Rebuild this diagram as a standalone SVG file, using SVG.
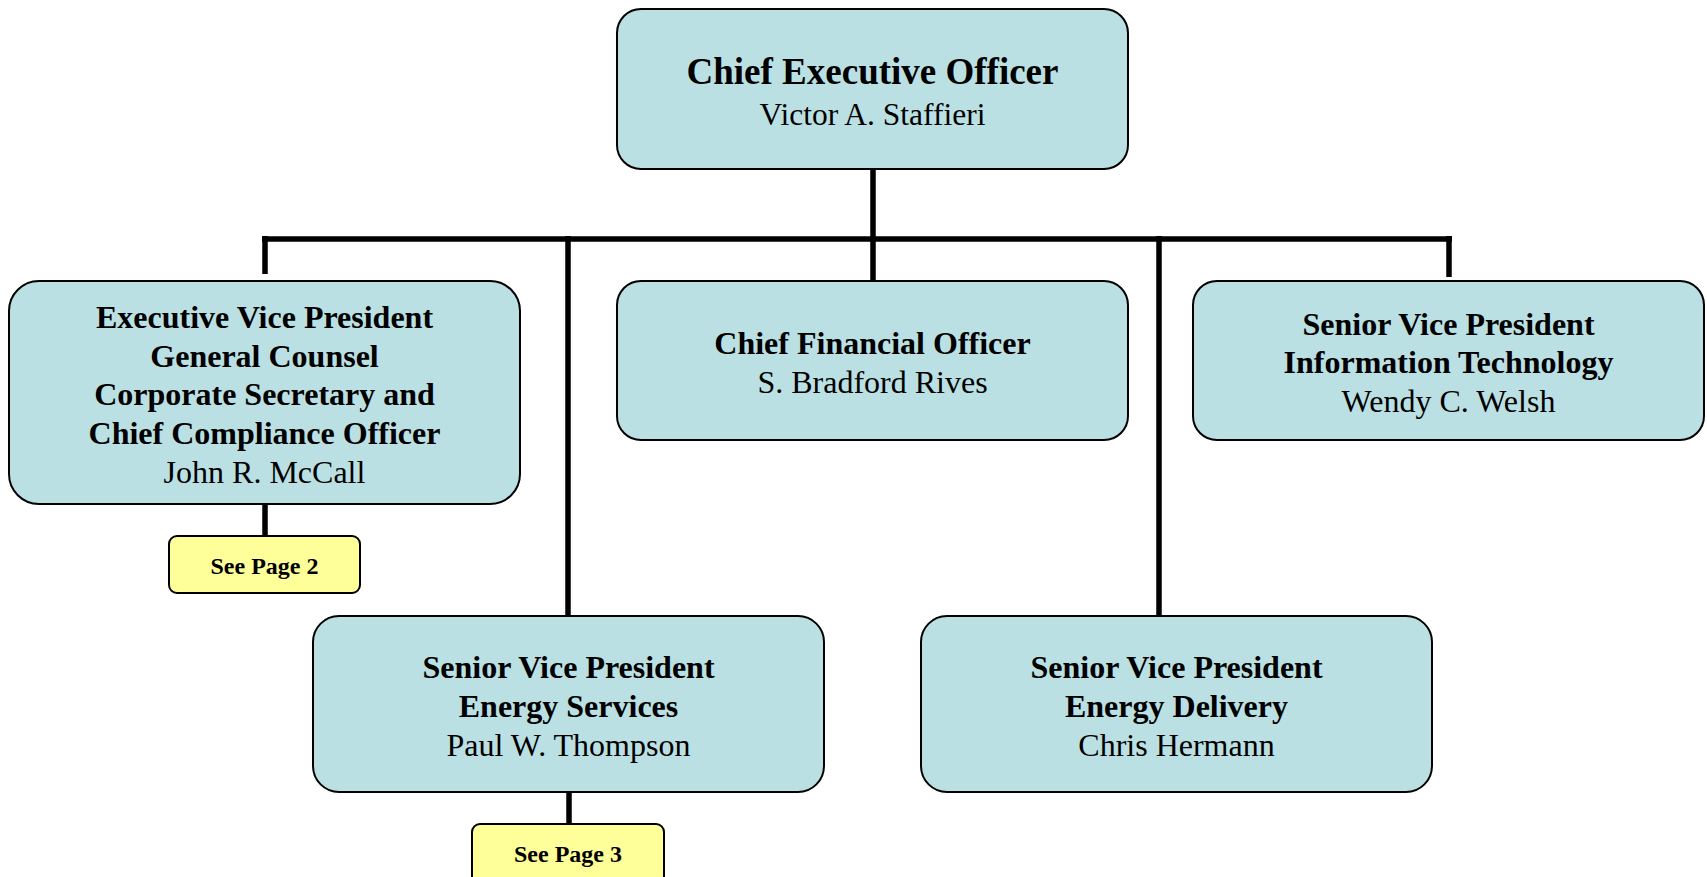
<svg xmlns="http://www.w3.org/2000/svg" width="1707" height="877" viewBox="0 0 1707 877">
<style>
.box{fill:#BBE0E3;stroke:#000;stroke-width:2}
.ref{fill:#FFFF99;stroke:#000;stroke-width:2}
.conn line{stroke:#000;stroke-width:5.5;stroke-linecap:butt}
text{font-family:"Liberation Serif","Times New Roman",serif;fill:#000;text-anchor:middle}
.t{font-weight:bold;font-size:32px}
.n{font-size:32px}
.big{font-weight:bold;font-size:37px}
.bigname{font-size:31.5px}
.sp{font-weight:bold;font-size:24px}
</style>
<rect width="1707" height="877" fill="#fff"/>
<g id="connectors" class="conn">
<line x1="873" y1="169" x2="873" y2="281"/>
<line x1="262" y1="239" x2="1452" y2="239"/>
<line x1="265" y1="236" x2="265" y2="274"/>
<line x1="1449" y1="236" x2="1449" y2="277"/>
<line x1="568" y1="236" x2="568" y2="616"/>
<line x1="1159" y1="236" x2="1159" y2="616"/>
<line x1="265" y1="504" x2="265" y2="536"/>
<line x1="569" y1="792" x2="569" y2="824"/>
</g>
<g id="ceo">
<rect class="box" x="617" y="9" width="511" height="160" rx="24"/>
<text class="big" x="872.5" y="84">Chief Executive Officer</text>
<text class="bigname" x="872.5" y="124.5">Victor A. Staffieri</text>
</g>
<g id="evp">
<rect class="box" x="9" y="281" width="511" height="223" rx="30"/>
<text class="t" x="264.5" y="328">Executive Vice President</text>
<text class="t" x="264.5" y="366.5">General Counsel</text>
<text class="t" x="264.5" y="405">Corporate Secretary and</text>
<text class="t" x="264.5" y="443.5">Chief Compliance Officer</text>
<text class="n" x="264.5" y="482.5">John R. McCall</text>
</g>
<g id="cfo">
<rect class="box" x="617" y="281" width="511" height="159" rx="24"/>
<text class="t" x="872.5" y="354">Chief Financial Officer</text>
<text class="n" x="872.5" y="392.5">S. Bradford Rives</text>
</g>
<g id="svp-it">
<rect class="box" x="1193" y="281" width="511" height="159" rx="24"/>
<text class="t" x="1448.5" y="334.5">Senior Vice President</text>
<text class="t" x="1448.5" y="373">Information Technology</text>
<text class="n" x="1448.5" y="411.5">Wendy C. Welsh</text>
</g>
<g id="svp-es">
<rect class="box" x="313" y="616" width="511" height="176" rx="26"/>
<text class="t" x="568.5" y="678">Senior Vice President</text>
<text class="t" x="568.5" y="716.5">Energy Services</text>
<text class="n" x="568.5" y="755.5">Paul W. Thompson</text>
</g>
<g id="svp-ed">
<rect class="box" x="921" y="616" width="511" height="176" rx="26"/>
<text class="t" x="1176.5" y="678">Senior Vice President</text>
<text class="t" x="1176.5" y="716.5">Energy Delivery</text>
<text class="n" x="1176.5" y="755.5">Chris Hermann</text>
</g>
<g id="see-page-2">
<rect class="ref" x="169" y="536" width="191" height="57" rx="8"/>
<text class="sp" x="264.5" y="574">See Page 2</text>
</g>
<g id="see-page-3">
<rect class="ref" x="472" y="824" width="192" height="60" rx="8"/>
<text class="sp" x="568" y="862">See Page 3</text>
</g>
</svg>
